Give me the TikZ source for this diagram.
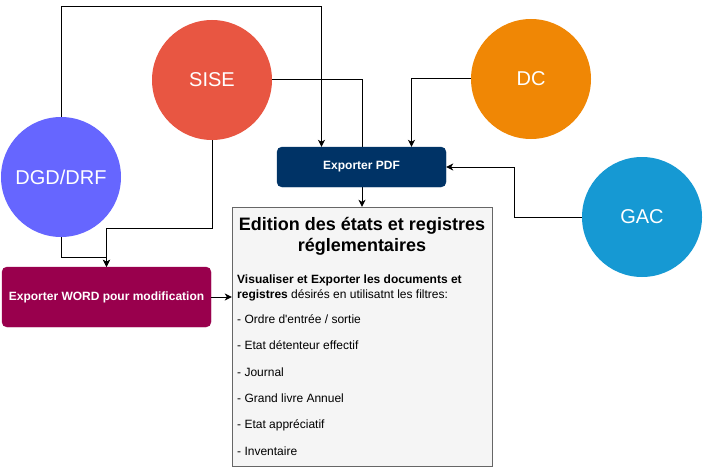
\documentclass[tikz,border=0pt]{standalone}
\usepackage{fontspec}
\setmainfont{Liberation Sans}
\usepackage{tikz}
\definecolor{dgdblue}{HTML}{6666FF}
\definecolor{sisered}{HTML}{E85642}
\definecolor{dcorange}{HTML}{F08705}
\definecolor{gacblue}{HTML}{1699D3}
\definecolor{pdfnavy}{HTML}{003366}
\definecolor{wordplum}{HTML}{99004D}
\definecolor{edbg}{HTML}{F5F5F5}
\definecolor{edborder}{HTML}{666666}
\usetikzlibrary{arrows.meta, positioning, calc, backgrounds}
\tikzset{
	src/.style={circle, minimum size=120pt, inner sep=0pt, text=white,
		font=\fontsize{20}{24}\selectfont},
	expbox/.style={rounded corners=5pt, text=white, inner sep=0pt,
		font=\fontsize{12}{14}\selectfont\bfseries},
	conn/.style={-{Stealth[length=7pt, width=7pt, inset=2pt]}, line width=1pt, draw=black},
	plain/.style={line width=1pt, draw=black}
}

\begin{document}
\begin{tikzpicture}[x=1pt, y=-1pt]
	\useasboundingbox (0,0) rectangle (703,468);
	\node[src, fill=dgdblue] (dgd) at (61,177) {DGD/DRF};
	\node[src, fill=sisered] (sise) at (212,80) {SISE};
	\node[src, fill=dcorange] (dc) at (531,79) {DC};
	\node[src, fill=gacblue] (gac) at (642,217) {GAC};
	\node[draw=edborder, fill=edbg, minimum width=260pt, minimum height=259pt,
		inner sep=0pt] (edition) at (362,336.5) {};
	% export boxes
	\node[expbox, fill=pdfnavy, draw=pdfnavy, minimum width=169pt, minimum height=40pt]
		(pdf) at (361.5,167) {Exporter PDF};
	\node[expbox, fill=wordplum, draw=wordplum, minimum width=209pt, minimum height=60pt]
		(word) at (106.5,297) {Exporter WORD pour modification};
	% texte du cadre
	\node[align=center, inner sep=0pt, font=\fontsize{18}{21}\selectfont\bfseries]
		(edtitle) at (362,236.5) {Edition des états et registres\\réglementaires};
	\node[align=left, anchor=west, inner sep=0pt, font=\fontsize{12}{15}\selectfont]
		(edbody) at (237,365) {\textbf{Visualiser et Exporter les documents et}\\
		\textbf{registres} désirés en utilisatnt les filtres:\\[10pt]
		- Ordre d\textquotesingle entrée / sortie\\[11.4pt]
		- Etat détenteur effectif\\[11.4pt]
		- Journal\\[11.4pt]
		- Grand livre Annuel\\[11.4pt]
		- Etat appréciatif\\[11.4pt]
		- Inventaire};
	\begin{scope}[on background layer]
		\draw[conn] (sise.east) -| (edition.north);
	\end{scope}
	\draw[conn] (dgd.north) -- ++(0,-110) -| ($(pdf.north)+(-40,0)$);
	\draw[conn] (dc.west) -| ($(pdf.north)+(50,0)$);
	\draw[conn] (gac.west) -- ++(-67,0) |- (pdf.east);
	\draw[conn] (sise.south) -- ++(0,88) -| (word.north);
	\draw[conn] (dgd.south) -- ++(0,20) -| (word.north);
	\draw[conn] (word.east) -- (word.east -| edition.west);
\end{tikzpicture}
\end{document}
